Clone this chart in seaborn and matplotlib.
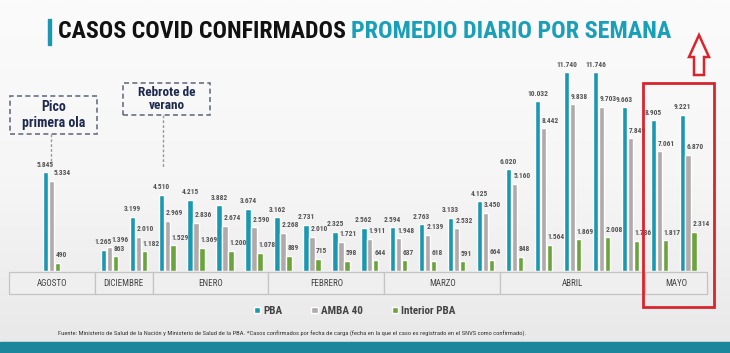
import matplotlib
matplotlib.use("Agg")
import matplotlib.pyplot as plt
from matplotlib.patches import Rectangle, Polygon
from matplotlib.transforms import blended_transform_factory
import numpy as np
import pandas as pd
import seaborn as sns

# posicion de cada semana en el eje (AGOSTO queda separado)
semana_slot = [0, 2, 3, 4, 5, 6, 7, 8, 9, 10, 11, 12, 13, 14, 15, 16, 17, 18, 19, 20, 21, 22]
pba = [5845, 1265, 3199, 4510, 4215, 3882, 3674, 3162, 2731, 2325, 2562,
       2594, 2763, 3133, 4125, 6020, 10032, 11740, 11746, 9663, 8905, 9221]
amba40 = [5334, 1396, 2010, 2969, 2836, 2674, 2590, 2268, 2010, 1721, 1911,
          1948, 2139, 2532, 3450, 5160, 8442, 9838, 9703, 7849, 7061, 6870]
interior = [490, 863, 1182, 1529, 1369, 1200, 1078, 889, 715, 598, 644,
            637, 618, 591, 664, 848, 1564, 1869, 2008, 1786, 1817, 2314]
series = ["PBA", "AMBA 40", "Interior PBA"]
colores = ["#1a98b1", "#b1a9aa", "#6aa43c"]
meses = ["AGOSTO", "DICIEMBRE", "ENERO", "FEBRERO", "MARZO", "ABRIL", "MAYO"]
meses_lim = [-1.45, 1.5, 3.5, 7.5, 11.5, 15.5, 20.5, 22.65]

W, H = 730, 353

df = pd.DataFrame({
    "slot": semana_slot * 3,
    "serie": sum([[s] * len(semana_slot) for s in series], []),
    "valor": pba + amba40 + interior,
})

sns.set_theme(style="white")
plt.rcParams["font.family"] = ["Roboto Condensed", "DejaVu Sans"]

fig = plt.figure(figsize=(7.3, 3.53), dpi=100)

# fondo con degradado suave
bg = fig.add_axes([0, 0, 1, 1], zorder=-10)
grad = np.linspace(0, 1, 256).reshape(-1, 1)
bg.imshow(grad, aspect="auto", cmap=matplotlib.colors.LinearSegmentedColormap.from_list(
    "bg", ["#fbfbfb", "#f6f6f6", "#e8e8e8"]), extent=[0, 1, 0, 1])
bg.set_axis_off()
fig.add_artist(Rectangle((0, 0), 1, 11 / H, transform=fig.transFigure,
                         color="#1b869c", zorder=5))

ax = fig.add_axes([8 / W, 82 / H, 699 / W, 199 / H])
ax.patch.set_alpha(0)
sns.barplot(data=df, x="slot", y="valor", hue="serie", hue_order=series,
            palette=colores, native_scale=True, width=0.62, gap=0.1,
            saturation=1, ax=ax)
ax.set_xlim(-1.5, 22.65)
ax.set_ylim(0, 11746)
ax.set_axis_off()

# etiquetas de valores
for k, cont in enumerate(ax.containers):
    for i, p in enumerate(cont.patches):
        v = p.get_height()
        txt = f"{int(round(v)):,}".replace(",", ".")
        if k == 0:
            x, ha = p.get_x() + p.get_width() / 2, "center"
        elif k == 1:
            # si la barra gris alcanza a la azul, correr la etiqueta
            frac = 0.9 if v > 0.9 * pba[i] else 0.25
            x, ha = p.get_x() + p.get_width() * frac, "left"
        else:
            x, ha = p.get_x() + p.get_width() * 0.2, "left"
        ax.annotate(txt, (x, v), xytext=(0, 2.5), textcoords="offset points",
                    ha=ha, va="bottom", fontsize=5.3, fontweight="bold",
                    color="#555555", annotation_clip=False)

# fila de meses
tr = blended_transform_factory(ax.transData, fig.transFigure)
y0, y1 = (H - 294) / H, (H - 272) / H
for m, a, b in zip(meses, meses_lim[:-1], meses_lim[1:]):
    fig.add_artist(Rectangle((a, y0), b - a, y1 - y0, transform=tr,
                             facecolor="#efefef", edgecolor="#c4c4c4", lw=0.9))
    fig.text((a + b) / 2, (y0 + y1) / 2, m, transform=tr, ha="center",
             va="center", fontsize=6.5, color="#444444")

sns.move_legend(ax, "center", bbox_to_anchor=(0.486, 42 / H),
                bbox_transform=fig.transFigure, ncol=3, frameon=False,
                title=None, handlelength=0.55, handleheight=0.55,
                handletextpad=0.3, columnspacing=2.6,
                prop={"weight": "bold", "size": 8})
for t in ax.get_legend().get_texts():
    t.set_color("#444444")

# titulo
fig.add_artist(Rectangle((48 / W, (H - 45) / H), 3 / W, 26 / H,
                         transform=fig.transFigure, color="#1a98b1"))
fig.text(58 / W, (H - 31) / H, "CASOS COVID CONFIRMADOS", fontsize=17.2,
         fontweight="bold", color="#111111", va="center")
fig.text(351 / W, (H - 31) / H, "PROMEDIO DIARIO POR SEMANA", fontsize=17.4,
         fontweight="bold", color="#1a9fb8", va="center")

# recuadros de anotacion
def caja(x0, x1, ytop, ybot, texto, xl, fs):
    fig.add_artist(Rectangle((x0 / W, (H - ybot) / H), (x1 - x0) / W,
                             (ybot - ytop) / H, transform=fig.transFigure,
                             fill=False, edgecolor="#6b6f80", lw=1.2,
                             ls=(0, (3, 2))))
    fig.text((x0 + x1) / 2 / W, (H - (ytop + ybot) / 2) / H, texto,
             ha="center", va="center", fontsize=fs, fontweight="bold",
             color="#1f2a4f", linespacing=1.1)
    fig.add_artist(plt.Line2D([xl / W, xl / W], [(H - ybot) / H, (H - 168) / H],
                              transform=fig.transFigure, color="#999999",
                              lw=1, ls=(0, (2, 1.5))))

caja(10, 97, 96, 134, "Pico\nprimera ola", 51, 10)
caja(123, 210, 83, 115, "Rebrote de\nverano", 163, 9.5)

# resaltado rojo de mayo
rojo = "#d8252d"
fig.add_artist(Rectangle((643 / W, (H - 307) / H), 71 / W, 224 / H,
                         transform=fig.transFigure, fill=False,
                         edgecolor=rojo, lw=2))
flecha = [(699, 35), (709, 57), (704, 57), (704, 75), (694, 75), (694, 57), (689, 57)]
fig.add_artist(Polygon([(x / W, (H - y) / H) for x, y in flecha],
                       closed=True, fill=False, edgecolor=rojo, lw=1.8,
                       transform=fig.transFigure))

fig.text(58 / W, 19 / H,
         "Fuente: Ministerio de Salud de la Nación y Ministerio de Salud de la PBA. "
         "*Casos confirmados por fecha de carga (fecha en la que el caso es "
         "registrado en el SNVS como confirmado).",
         fontsize=4.65, color="#333333", va="center")

fig.savefig("out.png", dpi=100)
